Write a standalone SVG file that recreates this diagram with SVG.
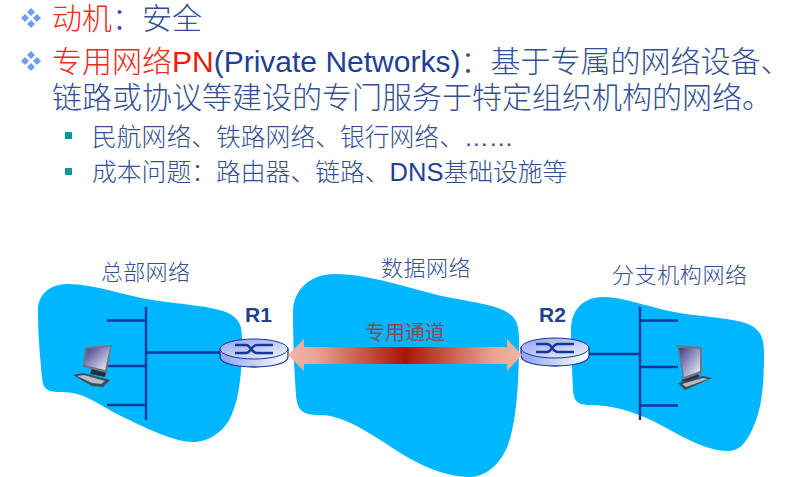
<svg xmlns="http://www.w3.org/2000/svg" width="810" height="477" viewBox="0 0 810 477">
<style>
text{font-family:"Liberation Sans","Noto Sans CJK SC",sans-serif;fill:#34508f;font-weight:300}
.h{font-size:30px}.s{font-size:24.8px}.l{font-size:22px}.red{fill:#ee2a18}
.lat{fill:#1f3f96;font-weight:400}
.redlat{fill:#f01808;font-weight:400}
.blob{fill:#00b7ff}.wire{stroke:#14379a;stroke-width:2.4;fill:none}
.rn{font-size:21px;font-weight:bold;fill:#23408f}
.d{fill:#6d9df2}.sq{fill:#12949c}
.frame{fill:#66788a}.kb{fill:#3e4a54}.keys{fill:#b4bcc4}.stand{fill:#26303a}
</style>
<defs>
<linearGradient id="shaft" x1="288" x2="522" y1="0" y2="0" gradientUnits="userSpaceOnUse">
<stop offset="0" stop-color="#f1b5a6"/><stop offset=".12" stop-color="#e9a392"/><stop offset=".5" stop-color="#a81506"/><stop offset=".88" stop-color="#e9a392"/><stop offset="1" stop-color="#f1b5a6"/>
</linearGradient>
<linearGradient id="rt" x1="0" y1="0" x2="1" y2="1"><stop offset="0" stop-color="#8ea2ee"/><stop offset="1" stop-color="#f2f5ff"/></linearGradient>
<linearGradient id="rb" x1="0" y1="0" x2="1" y2="0"><stop offset="0" stop-color="#8ea2ee"/><stop offset="1" stop-color="#ffffff"/></linearGradient>
<linearGradient id="scr" x1="0" y1="0" x2="1" y2="1"><stop offset="0" stop-color="#3c3a8c"/><stop offset="1" stop-color="#f4f4fa"/></linearGradient>
<g id="router">
<path d="M-34 0V8C-34 14-19 18 0 18S34 14 34 8V0Z" fill="url(#rb)" stroke="#14379a" stroke-width="1.3"/>
<ellipse cx="0" cy="0" rx="34" ry="10" fill="url(#rt)" stroke="#14379a" stroke-width="1"/>
<path d="M-19 -4H-8C-3 -4 -3 4 3 4H19M-19 4H-8C-3 4 -3 -4 3 -4H19" fill="none" stroke="#14379a" stroke-width="2.4"/>
</g>
</defs>
<rect width="810" height="477" fill="#fff"/>
<g id="bullets">
<path class="d" d="M31 8l4 4-4 4-4-4zM25 14l4 4-4 4-4-4zM37 14l4 4-4 4-4-4zM31 20l4 4-4 4-4-4z"/>
<path class="d" d="M31 51l4 4-4 4-4-4zM25 57l4 4-4 4-4-4zM37 57l4 4-4 4-4-4zM31 63l4 4-4 4-4-4z"/>
<rect class="sq" x="65" y="132" width="7" height="7"/>
<rect class="sq" x="65" y="168" width="7" height="7"/>
</g>
<g id="heading">
<text class="h" x="52" y="29"><tspan class="red">动机</tspan>：安全</text>
<text class="h" x="52" y="72"><tspan class="red">专用网络</tspan><tspan class="redlat">PN</tspan><tspan class="lat">(Private Networks)</tspan>：基于专属的网络设备、</text>
<text class="h" x="52" y="108">链路或协议等建设的专门服务于特定组织机构的网络。</text>
<text class="s" x="92" y="146">民航网络、铁路网络、银行网络、……</text>
<text class="s" x="92" y="181">成本问题：路由器、链路、<tspan class="lat" font-size="25.5">DNS</tspan>基础设施等</text>
</g>
<g id="net-hq">
<path class="blob" d="M38 313C37 296 48 284 68 284C95 284 125 296 153 300C185 305 215 306 230 314C240 320 242 326 242 340C242 370 240 395 232 414C225 432 208 442 193 442C175 442 150 430 125 418C100 406 85 392 63 392C48 392 43 390 42 378C40 355 38 335 38 313Z"/>
<text class="l" x="101" y="280" letter-spacing=".3">总部网络</text>
</g>
<g id="net-data">
<path class="blob" d="M293 312C293 290 310 274 335 274C365 274 400 285 430 293C455 300 485 302 503 310C516 316 519 323 519 340C519 380 517 420 508 445C500 465 485 477 470 477C440 477 410 460 385 443C360 427 340 415 320 415C302 415 297 410 296 395C294 370 293 340 293 312Z"/>
<text class="l" x="381" y="276" letter-spacing=".5">数据网络</text>
</g>
<g id="net-branch">
<path class="blob" d="M571 330C571 308 585 297 603 297C625 297 650 308 680 313C710 318 738 318 752 326C762 332 764 340 764 355C764 385 762 410 752 430C745 445 738 451 728 451C705 451 680 435 655 422C630 410 610 405 590 405C578 405 574 402 573 390C572 370 571 350 571 330Z"/>
<text class="l" x="612" y="283" letter-spacing=".6">分支机构网络</text>
</g>
<g id="connectors">
<path class="wire" d="M146 307V420M107 320.5H146M107 366H146M107 405H146M146 352.5H221"/>
<path class="wire" d="M640 307V420M640 320.5H678M640 367H678M640 405.5H678M589 354H640"/>
</g>
<g id="router-r1"><use href="#router" x="254" y="349"/><text class="rn" x="245" y="322">R1</text></g>
<g id="router-r2"><use href="#router" x="555" y="348"/><text class="rn" x="539" y="322">R2</text></g>
<g id="tunnel">
<path d="M288 355L304 339V347H507V339L522 355L507 371V364H304V371Z" fill="url(#shaft)"/>
<text x="365" y="340" font-size="20" style="fill:#8b4a50;font-weight:400">专用通道</text>
</g>
<g id="pc-left">
<path class="stand" d="M92 368L106 372L105 377L90 374Z"/>
<path class="frame" d="M85 347L112 345L107 373L83 367Z"/>
<path d="M87 349L110 347L105 370L85 365Z" fill="url(#scr)"/>
<path class="kb" d="M73 375L83 373L110 380L103 387L92 386Z"/>
<path class="keys" d="M77 376L84 375L105 381L101 384L92 383Z"/>
</g>
<g id="pc-right">
<path class="stand" d="M681 380L696 373L700 376L686 383Z"/>
<path class="frame" d="M677 345L702 347V373L683 380Z"/>
<path d="M679 348L700 349V371L684 377Z" fill="url(#scr)"/>
<path class="kb" d="M678 383L703 376L712 378L685 390Z"/>
<path class="keys" d="M682 384L703 378L708 379L686 387Z"/>
</g>
</svg>
